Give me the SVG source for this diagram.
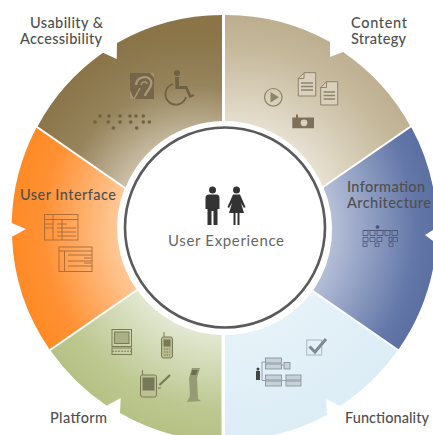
<svg xmlns="http://www.w3.org/2000/svg" width="433" height="435" viewBox="0 0 433 435">
<style>
.lbl{font-family:"Lato","Open Sans","Liberation Sans",sans-serif;font-size:14.5px;fill:#4f4f4f;font-weight:500}
</style>
<defs>
<radialGradient id="gU" gradientUnits="userSpaceOnUse" cx="195" cy="222" r="190"><stop offset="0.42" stop-color="#c9bda4"/><stop offset="0.72" stop-color="#96845c"/><stop offset="1" stop-color="#8a7448"/></radialGradient>
<radialGradient id="gC" gradientUnits="userSpaceOnUse" cx="235" cy="222" r="205"><stop offset="0.45" stop-color="#e8e2d3"/><stop offset="0.85" stop-color="#c5b89b"/><stop offset="1" stop-color="#bdae8f"/></radialGradient>
<radialGradient id="gI" gradientUnits="userSpaceOnUse" cx="224" cy="228" r="213"><stop offset="0.5" stop-color="#b6c0d8"/><stop offset="0.9" stop-color="#6377a8"/><stop offset="1" stop-color="#5b6fa1"/></radialGradient>
<radialGradient id="gF" gradientUnits="userSpaceOnUse" cx="224" cy="228" r="213"><stop offset="0.5" stop-color="#e6f2f8"/><stop offset="1" stop-color="#dcedf6"/></radialGradient>
<radialGradient id="gP" gradientUnits="userSpaceOnUse" cx="224" cy="228" r="213"><stop offset="0.5" stop-color="#e2e8d2"/><stop offset="0.85" stop-color="#bdc891"/><stop offset="1" stop-color="#b5c184"/></radialGradient>
<radialGradient id="gS" gradientUnits="userSpaceOnUse" cx="224" cy="228" r="213"><stop offset="0.5" stop-color="#ffc897"/><stop offset="0.85" stop-color="#ff9134"/><stop offset="1" stop-color="#ff8a25"/></radialGradient>
</defs>

<g id="usability">
<path fill="url(#gU)" d="M37.600,126.200A213,213 0 0 1 103,52.700L116.700,59L117,43A213,213 0 0 1 222,15L222,121A107,107 0 0 0 125.600,187.200Z"/>
<g fill="#6f6143">
<path d="M130,73H154V99H130Z" fill="#75664a"/>
<path d="M130,90V99H134Z M150,73H154V78Z" fill="#a3926d"/>
<path d="M136,85C137,76 148,75 151,81C153,88 146,90 145,96" fill="none" stroke="#a89878" stroke-width="2.400"/>
<path d="M141,85C142,81 147,81 147,84" fill="none" stroke="#a89878" stroke-width="1.500"/>
<path d="M134,99L140,88" fill="none" stroke="#a89878" stroke-width="1.500"/>
<circle cx="177" cy="73" r="3"/>
<path d="M175,77h4v9h8l4,9l2.500,-1l1,2l-5,2l-4,-9h-10Z"/>
<path d="M173,84a10.500,10.500 0 1 0 13,13" fill="none" stroke="#6f6143" stroke-width="1.800"/>
<circle cx="100" cy="116" r="1.800"/><circle cx="109" cy="116" r="1.800"/><circle cx="120" cy="116" r="1.800"/><circle cx="130" cy="116" r="1.800"/><circle cx="136" cy="116" r="1.800"/><circle cx="143.300" cy="116" r="1.800"/>
<circle cx="95" cy="122" r="1.800"/><circle cx="108.300" cy="122" r="1.800"/><circle cx="120" cy="122" r="1.800"/><circle cx="130.700" cy="122" r="1.800"/><circle cx="143.300" cy="122" r="1.800"/><circle cx="149.300" cy="122" r="1.800"/>
<circle cx="113.300" cy="128" r="1.800"/><circle cx="136.700" cy="128" r="1.800"/>
</g>
<text class="lbl" x="30" y="28" textLength="73">Usability &amp;</text>
<text class="lbl" x="20" y="44" textLength="82">Accessibility</text>
</g>

<g id="content">
<path fill="url(#gC)" d="M225,15A213,213 0 0 1 330,42L330,57L343,52A213,213 0 0 1 410.100,125.700L322.400,186.200A107,107 0 0 0 225,121Z"/>
<g stroke="#8f8369" fill="none">
<circle cx="273.300" cy="97.300" r="8.800" stroke-width="1.200"/>
<path d="M270.500,92V102.500L279,97.300Z" fill="#8f8369" stroke="none"/>
<path d="M304,72.700H315.700V96H298.300V78.500Z M304,72.700V78.500H298.300" fill="#d9d0bd" stroke-width="1"/>
<path d="M301,83H313M301,86.500H313M301,90H313" stroke-width="1.500"/>
<path d="M326.500,81.700H337.700V105H320.700V87.500Z M326.500,81.700V87.500H320.700" fill="#d9d0bd" stroke-width="1"/>
<path d="M323.500,92H335M323.500,95.500H335M323.500,99H335" stroke-width="1.500"/>
</g>
<path d="M292.300,117.500H296V114.500H298V117.500H314V128.300H292.300Z" fill="#7c705b"/>
<circle cx="304" cy="122.800" r="3.400" fill="#d9d0bd"/>
<text class="lbl" x="351" y="28" textLength="56">Content</text>
<text class="lbl" x="351" y="44" textLength="55">Strategy</text>
</g>

<g id="information">
<path fill="url(#gI)" d="M411.300,127.300A213,213 0 0 1 433,187L433,230L425,235L433,241L433,269A213,213 0 0 1 398.600,349.200L313.300,290.200A107,107 0 0 0 323.600,187.800Z"/>
<g fill="none" stroke="#4a5474" stroke-width="0.800">
<circle cx="377.500" cy="227" r="1.500" fill="#4a5474"/>
<path d="M363,230.500H397.500M363,230.500h5v5h-5zM370,230.500h5v5h-5zM377,230.500h6v5h-6zM385,230.500h5v5h-5zM392,230.500h5.500v5h-5.500z"/>
<path d="M363,237.500h5v4h-5zM370,237.500h5v4h-5zM377,237.500h5v4h-5zM389,237.500h3v4h-3zM393,237.500h4.500v4h-4.500z"/>
<path d="M363,243h4v3.500h-4zM375,243h4v3.500h-4zM389,243h4v3.500h-4z"/>
</g>
<text class="lbl" x="347" y="192" textLength="78">Information</text>
<text class="lbl" x="347" y="207.500" textLength="84">Architecture</text>
</g>

<g id="functionality">
<path fill="url(#gF)" d="M397.400,350.800A213,213 0 0 1 340,406L326,399L327,415A213,213 0 0 1 274,435L225,435L225,335A107,107 0 0 0 312.100,291.800Z"/>
<rect x="306.700" y="340" width="15" height="15" fill="none" stroke="#b4bfc6" stroke-width="1.200"/>
<path d="M309.500,346.500L315,352L326,339" fill="none" stroke="#7d8a90" stroke-width="3"/>
<g fill="#c6d2d8" stroke="#7f8c92" stroke-width="0.800">
<rect x="265.500" y="358" width="16" height="5"/><rect x="265.500" y="364" width="16" height="5"/><rect x="284" y="362.500" width="6" height="6.500"/>
<rect x="265.500" y="375" width="16" height="5"/><rect x="265.500" y="381" width="16" height="5"/><rect x="286" y="375" width="15" height="5"/><rect x="286" y="381" width="15" height="5"/>
<path d="M265.500,362H262V380.500H265.500M281.500,365H284M281.500,380.500H286" fill="none"/>
</g>
<circle cx="258" cy="369" r="1.500" fill="#444"/>
<rect x="256" y="371" width="4" height="9" fill="#444"/>
<text class="lbl" x="345" y="423" textLength="84">Functionality</text>
</g>

<g id="platform">
<path fill="url(#gP)" d="M50.600,350.800A213,213 0 0 0 106.700,405.700L120.700,398L120,413A213,213 0 0 0 174,435L221.500,435L221.500,335A107,107 0 0 1 137.600,290.800Z"/>
<g fill="none" stroke="#7a7a55" stroke-width="1">
<rect x="112" y="329.500" width="19.500" height="17"/>
<rect x="114.500" y="332" width="14.500" height="11.500" fill="#a9b083"/>
<rect x="112" y="348" width="19.500" height="6.500"/>
<path d="M112,351.200H131.500" stroke-dasharray="2 1"/>
<rect x="161.500" y="337" width="11" height="21" rx="2" fill="#b8be91"/>
<path d="M164,337V332"/>
<rect x="164" y="340" width="6" height="6" fill="#7a7a55"/>
<path d="M164,349H170M164,352H170M164,355H170" stroke-dasharray="1.500 1"/>
<rect x="140.500" y="375" width="16" height="22" rx="2" fill="#bcc194"/>
<path d="M142.500,375V370"/>
<rect x="143" y="378" width="11" height="12" fill="#777a58"/>
<path d="M159.500,385L170,375" stroke-width="2.200"/>
<path d="M158,388H161"/>
<path d="M192,368L200,368L197,378L198,399L201,401L187,402L190,396L189,378Z" fill="#959c74" stroke="none"/>
<path d="M192,370L198,370L196,375L191,375Z" fill="#6c7050" stroke="none"/>
</g>
<text class="lbl" x="50" y="423" textLength="57">Platform</text>
</g>

<g id="interface">
<path fill="url(#gS)" d="M36.400,127.800A213,213 0 0 0 11.700,223L26,229L12,236.700A213,213 0 0 0 49.400,349.200L136.400,289.200A107,107 0 0 1 124.400,188.800Z"/>
<g fill="none" stroke="#a86a35" stroke-width="0.900">
<rect x="44.500" y="214.500" width="33.500" height="25.500"/>
<path d="M44.500,219.500H78M53,214.500V240M44.500,224H53M44.500,228H53M57,224H67M57,228H76M57,232H76M57,236H76M62,219.500V240"/>
<rect x="59" y="247" width="33" height="24.500"/>
<path d="M59,251H92M64.500,251V271.500M68,255H92M68,261H92M68,266H92M84,258H91M84,263H91"/>
</g>
<text class="lbl" x="20" y="200" textLength="96">User Interface</text>
</g>

<g id="user-experience">
<circle cx="225" cy="227.500" r="100" fill="#fff" stroke="#5a5a5a" stroke-width="2.600"/>
<g fill="#333">
<circle cx="212.500" cy="190" r="3.500"/>
<path d="M209,194.500H216.500Q219.500,194.500 219.500,198V209H217.500V225H213.500V211H211.500V225H207.500V209H205.500V198Q205.500,194.500 209,194.500Z"/>
<circle cx="236.500" cy="190" r="3.500"/>
<path d="M233,194.500H240L245.500,207L244,208L241,203L244,213H239.500V225H237.500V213H235.500V225H233.500V213H229L232,203L229,208L227.500,207Z"/>
</g>
<text x="168" y="246" textLength="116" style="font-family:'Lato','Open Sans','Liberation Sans',sans-serif;font-size:15px;fill:#666">User Experience</text>
</g>
</svg>
